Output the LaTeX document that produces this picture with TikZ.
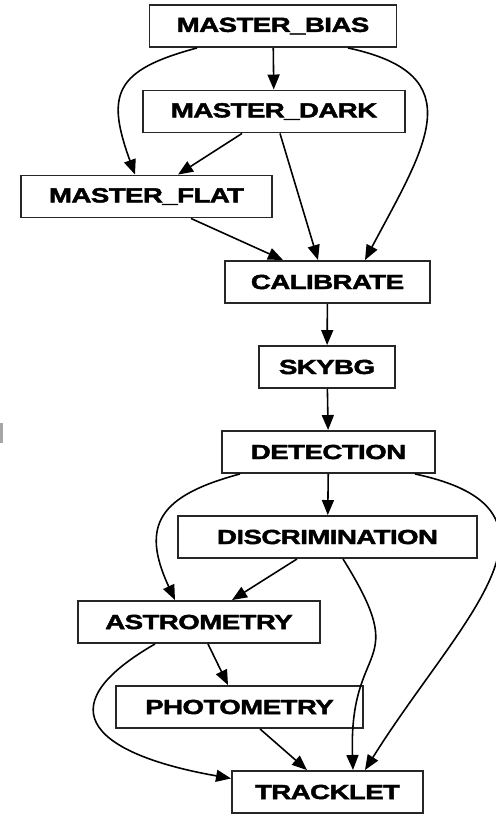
\documentclass[tikz,border=0pt]{standalone}
\usepackage{fontspec}
\usepackage{tikz}
\usetikzlibrary{arrows.meta, positioning}
\newfontfamily\boxfont{Liberation Sans}[FakeStretch=1.36, FakeBold=2.2, LetterSpace=-3]

\begin{document}
\begin{tikzpicture}[>={Triangle[length=0.3cm, width=0.24cm]},
    stage/.style={draw=black!85, line width=1.1pt, rectangle, minimum height=0.84cm,
                  inner sep=0pt, font=\boxfont\bfseries\fontsize{11.6}{13}\selectfont},
    flow/.style={->, line width=0.9pt}]
  \useasboundingbox (0,0) rectangle (9.9,-16.28);
  \fill[gray!70] (0,-8.46) rectangle (0.06,-8.86);
  \node[stage, minimum width=4.94cm] (bias)   at (5.46,-0.52)  {MASTER\_BIAS};
  \node[stage, minimum width=5.24cm] (dark)   at (5.48,-2.23)  {MASTER\_DARK};
  \node[stage, minimum width=5.02cm] (flat)   at (2.93,-3.93)  {MASTER\_FLAT};
  \node[stage, minimum width=4.10cm] (calib)  at (6.55,-5.64)  {CALIBRATE};
  \node[stage, minimum width=2.72cm] (skybg)  at (6.54,-7.34)  {SKYBG};
  \node[stage, minimum width=4.26cm] (detect) at (6.57,-9.04)  {DETECTION};
  \node[stage, minimum width=5.98cm] (discr)  at (6.55,-10.74) {DISCRIMINATION};
  \node[stage, minimum width=4.84cm] (astro)  at (3.98,-12.44) {ASTROMETRY};
  \node[stage, minimum width=4.94cm] (photo)  at (4.79,-14.14) {PHOTOMETRY};
  \node[stage, minimum width=3.82cm] (track)  at (6.55,-15.84) {TRACKLET};
  % master frames
  \draw[flow] (bias) -- (dark);
  \draw[flow] ([xshift=-1.52cm]bias.south) to[out=195, in=110, looseness=1.55] ([xshift=-0.23cm]flat.north);
  \draw[flow] ([xshift=1.5cm]bias.south) to[out=-12, in=62, looseness=1.55] ([xshift=0.75cm]calib.north);
  \draw[flow] ([xshift=-0.64cm]dark.south) -- ([xshift=0.63cm]flat.north);
  \draw[flow] ([xshift=0.12cm]dark.south) -- ([xshift=-0.19cm]calib.north);
  \draw[flow] ([xshift=0.89cm]flat.south) -- ([xshift=-0.89cm]calib.north);
  % reduction chain
  \draw[flow] (calib) -- (skybg);
  \draw[flow] (skybg) -- (detect);
  \draw[flow] (detect) -- (discr);
  \draw[flow] ([xshift=-1.77cm]detect.south) to[out=195, in=115, looseness=1.5] ([xshift=-0.48cm]astro.north);
  \draw[flow] ([xshift=1.73cm]detect.south) to[out=-12, in=58, looseness=1.5] ([xshift=0.75cm]track.north);
  \draw[flow] ([xshift=0.31cm]discr.south) to[out=-58, in=92, looseness=1.6] ([xshift=0.51cm]track.north);
  \draw[flow] ([xshift=-0.61cm]discr.south) -- ([xshift=0.66cm]astro.north);
  % measurements
  \draw[flow] ([xshift=0.18cm]astro.south) -- ([xshift=-0.23cm]photo.north);
  \draw[flow] ([xshift=-0.88cm]astro.south) to[out=210, in=170, looseness=2.2] (track.172);
  \draw[flow] ([xshift=0.41cm]photo.south) -- ([xshift=-0.41cm]track.north);
\end{tikzpicture}
\end{document}
